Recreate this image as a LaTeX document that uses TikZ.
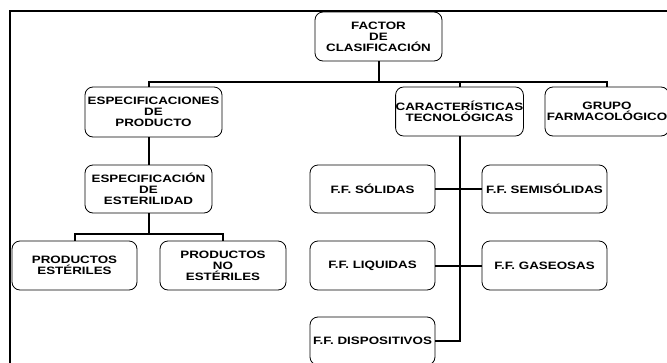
\documentclass[tikz,border=0pt]{standalone}
\usepackage{fontspec}
\setmainfont[FakeStretch=1.25]{Liberation Sans}
\usetikzlibrary{positioning}

\tikzset{
    caja/.style={draw, rounded corners=8pt, line width=0.8pt, minimum width=126pt, minimum height=49pt,
        inner xsep=0pt, inner ysep=2pt, align=center, font=\fontsize{10.7}{11}\selectfont\bfseries},
    enlace/.style={line width=2pt},
    marco/.style={line width=2pt},
}

\begin{document}
\begin{tikzpicture}[line join=miter,x=1pt,y=-1pt]
    \clip(0,0) rectangle (667,362);

    % Outer frame
    \draw[marco] (10,400) -- (10,11) -- (700,11);

    % Nodes with consistent styling
    \draw(378.5,36.5) node[caja, minimum width=127pt] (factor) {FACTOR\\DE\\CLASIFICACIÓN};
    \draw(153.5,112) node[caja, minimum width=137pt, minimum height=50pt] (producto) {ESPECIFICACIONES\\DE\\PRODUCTO};
    \draw(459.5,111.5) node[caja, minimum width=127pt] (tecno) {CARACTERÍSTICAS\\TECNOLÓGICAS};
    \draw(607,111.5) node[caja, minimum width=124pt] (grupo) {GRUPO\\FARMACOLÓGICO};
    \draw(148.5,189) node[caja, minimum width=127pt, minimum height=48pt] (esterilidad) {ESPECIFICACIÓN\\DE\\ESTERILIDAD};
    \draw(74.5,265.5) node[caja, minimum width=125pt] (esteriles) {PRODUCTOS\\ESTÉRILES};
    \draw(223,265.5) node[caja] (noesteriles) {PRODUCTOS\\NO\\ESTÉRILES};
    \draw(372.5,189) node[caja, minimum width=125pt, minimum height=48pt] (solidas) {F.F. SÓLIDAS};
    \draw(544.5,189) node[caja, minimum width=125pt, minimum height=48pt] (semisolidas) {F.F. SEMISÓLIDAS};
    \draw(372.5,265.5) node[caja, minimum width=125pt] (liquidas) {F.F. LIQUIDAS};
    \draw(544.5,265.5) node[caja, minimum width=125pt] (gaseosas) {F.F. GASEOSAS};
    \draw(372.5,341) node[caja, minimum width=125pt, minimum height=48pt] (dispositivos) {F.F. DISPOSITIVOS};

    % Bus points
    \coordinate (topbus) at (378.5,82);
    \coordinate (espbus) at (148.5,234);

    % Edges
    \draw[enlace] (esterilidad.north |- producto.north) -- (esterilidad.north |- topbus) -| (grupo.north);
    \draw[enlace] (esteriles.north) |- (espbus) -| (noesteriles.north);
    \draw[enlace] (tecno.south) |- (dispositivos.east);
    \foreach \source/\target in {factor.south/topbus, esterilidad.south/espbus, solidas.east/semisolidas.west, liquidas.east/gaseosas.west} {
            \draw[enlace] (\source) -- (\target);
        }
    \draw[enlace] (tecno.north) -- (tecno.north |- topbus);
    \draw[enlace] (esterilidad.north) -- (esterilidad.north |- producto.south);
\end{tikzpicture}
\end{document}
